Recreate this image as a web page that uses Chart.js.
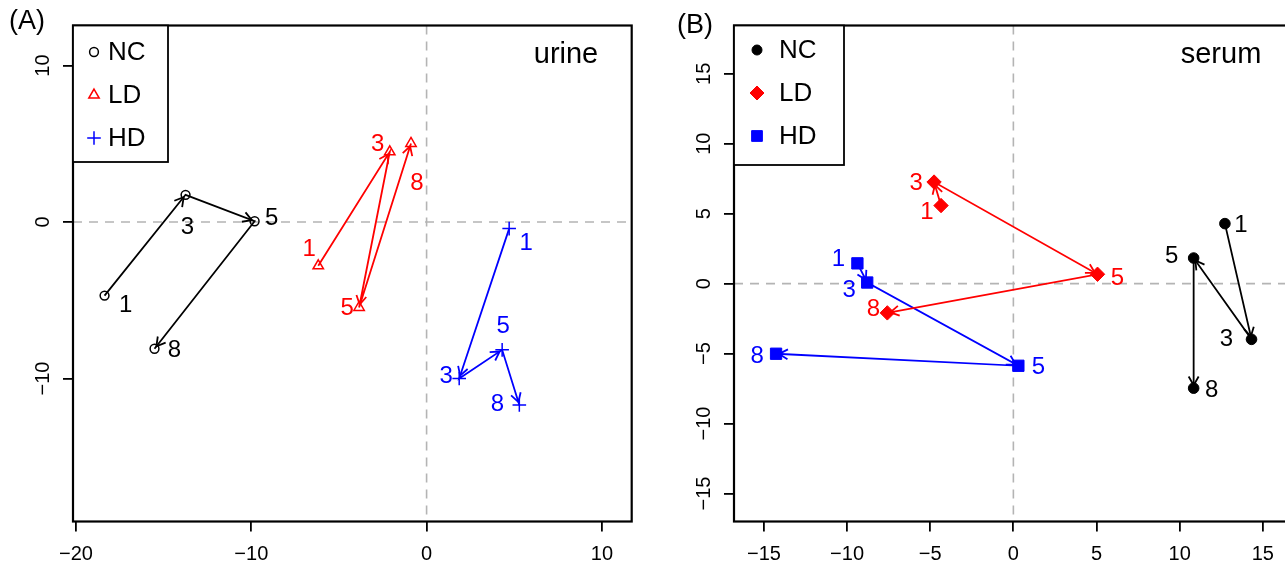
<!DOCTYPE html>
<html><head><meta charset="utf-8">
<script src="https://cdn.jsdelivr.net/npm/chart.js@4.4.0/dist/chart.umd.min.js"></script>
<style>
html,body{margin:0;padding:0;background:#fff;overflow:hidden;width:1285px;height:567px;}
#wa{position:absolute;left:0;top:0;width:640px;height:567px;}
#wb{position:absolute;left:640px;top:0;width:680px;height:567px;}
</style></head><body>
<div id="wa"><canvas id="ca" width="640" height="567"></canvas></div>
<div id="wb"><canvas id="cb" width="680" height="567"></canvas></div>
<script>
// ---------- data ----------
const timeLabels = ['1', '3', '5', '8'];
const groupNames = ['NC', 'LD', 'HD'];

// Panel A: urine
const urineNC_x = [-18.37, -13.75, -9.81, -15.52];
const urineNC_y = [-4.70, 1.74, 0.05, -8.10];
const urineLD_x = [-6.18, -2.10, -3.85, -0.89];
const urineLD_y = [-2.80, 4.49, -5.46, 5.02];
const urineHD_x = [4.71, 1.86, 4.31, 5.29];
const urineHD_y = [-0.42, -10.00, -8.17, -11.69];

// Panel B: serum
const serumNC_x = [12.72, 14.32, 10.84, 10.84];
const serumNC_y = [4.29, -3.98, 1.83, -7.47];
const serumLD_x = [-4.35, -4.77, 5.06, -7.58];
const serumLD_y = [5.58, 7.26, 0.67, -2.09];
const serumHD_x = [-9.38, -8.79, 0.30, -14.27];
const serumHD_y = [1.45, 0.08, -5.87, -5.01];

const urineXTicks = [-20, -10, 0, 10];
const urineYTicks = [-10, 0, 10];
const serumXTicks = [-15, -10, -5, 0, 5, 10, 15];
const serumYTicks = [-15, -10, -5, 0, 5, 10, 15];

// ---------- layout / style (not data) ----------
const COLORS = ['#000000', '#ff0000', '#0000ff'];
const FONT = '"Liberation Sans", Arial, Helvetica, sans-serif';

// pixel offsets of time labels relative to their points
const urineLabelOff = [
  [[21, 10], [2, 33], [17, -3], [20, 2]],
  [[-9, -16], [-12, -7], [-12, 1], [6, 40]],
  [[17, 15], [-13, -2], [1, -23], [-22, -1]]
];
const serumLabelOff = [
  [[16, 2], [-25, 0], [-22, -2], [18, 2]],
  [[-14, 7], [-18, 1], [20, 4], [-14, -4]],
  [[-19, -4], [-18, 8], [20, 2], [-19, 3]]
];

function pts(xs, ys) { return xs.map((x, i) => ({ x: x, y: ys[i] })); }
function minus(v) { return String(v).replace('-', '\u2212'); }

function drawSymbol(ctx, style, r, x, y, color, filled, lw) {
  ctx.save();
  ctx.strokeStyle = color; ctx.fillStyle = color; ctx.lineWidth = lw;
  ctx.beginPath();
  if (style === 'circle') { ctx.arc(x, y, r, 0, Math.PI * 2); }
  else if (style === 'triangle') {
    let a = 0;
    ctx.moveTo(x + Math.sin(a) * r, y - Math.cos(a) * r);
    a += 2 * Math.PI / 3; ctx.lineTo(x + Math.sin(a) * r, y - Math.cos(a) * r);
    a += 2 * Math.PI / 3; ctx.lineTo(x + Math.sin(a) * r, y - Math.cos(a) * r);
    ctx.closePath();
  } else if (style === 'cross') {
    ctx.moveTo(x, y - r); ctx.lineTo(x, y + r); ctx.moveTo(x - r, y); ctx.lineTo(x + r, y);
  } else if (style === 'rectRot') {
    ctx.moveTo(x - r, y); ctx.lineTo(x, y - r); ctx.lineTo(x + r, y); ctx.lineTo(x, y + r); ctx.closePath();
  } else if (style === 'rect') {
    const s = r * Math.SQRT1_2; ctx.rect(x - s, y - s, 2 * s, 2 * s);
  }
  if (filled && style !== 'cross') ctx.fill();
  ctx.stroke();
  ctx.restore();
}

function makeChart(id, cfg) {
  const datasets = cfg.series.map((s, gi) => ({
    label: groupNames[gi],
    data: pts(s[0], s[1]),
    showLine: true,
    borderColor: COLORS[gi],
    borderWidth: 1.8,
    pointStyle: cfg.sym[gi].style,
    pointRadius: cfg.sym[gi].r,
    pointBorderColor: COLORS[gi],
    pointBackgroundColor: cfg.sym[gi].filled ? COLORS[gi] : 'rgba(0,0,0,0)',
    pointBorderWidth: cfg.sym[gi].filled ? 1 : 1.5,
    tension: 0,
    fill: false,
    clip: false
  }));

  const deco = {
    id: 'deco' + id,
    beforeDatasetsDraw(chart) {
      const { ctx, chartArea: a, scales: { x, y } } = chart;
      ctx.save();
      ctx.beginPath(); ctx.rect(a.left, a.top, a.right - a.left, a.bottom - a.top); ctx.clip();
      ctx.strokeStyle = '#b4b4b4'; ctx.lineWidth = 1.6; ctx.setLineDash([9, 7]);
      const x0 = x.getPixelForValue(0), y0 = y.getPixelForValue(0);
      ctx.beginPath(); ctx.moveTo(x0, a.top); ctx.lineTo(x0, a.bottom); ctx.stroke();
      ctx.beginPath(); ctx.moveTo(a.left, y0); ctx.lineTo(a.right, y0); ctx.stroke();
      ctx.restore();
    },
    afterDatasetsDraw(chart) {
      const ctx = chart.ctx;
      chart.data.datasets.forEach((ds, gi) => {
        const meta = chart.getDatasetMeta(gi);
        const p = meta.data;
        ctx.save();
        ctx.strokeStyle = COLORS[gi]; ctx.lineWidth = 1.8; ctx.setLineDash([]);
        for (let j = 1; j < p.length; j++) {
          const ang = Math.atan2(p[j].y - p[j - 1].y, p[j].x - p[j - 1].x);
          const tx = p[j].x - Math.cos(ang) * 3, ty = p[j].y - Math.sin(ang) * 3;
          const L = 10, h = Math.PI / 6;
          ctx.beginPath();
          ctx.moveTo(tx - L * Math.cos(ang - h), ty - L * Math.sin(ang - h));
          ctx.lineTo(tx, ty);
          ctx.lineTo(tx - L * Math.cos(ang + h), ty - L * Math.sin(ang + h));
          ctx.stroke();
        }
        ctx.fillStyle = COLORS[gi];
        ctx.font = '24px ' + FONT; ctx.textAlign = 'center'; ctx.textBaseline = 'middle';
        p.forEach((pt, j) => {
          const o = cfg.labelOff[gi][j];
          ctx.fillText(timeLabels[j], pt.x + o[0], pt.y + o[1]);
        });
        ctx.restore();
      });
    },
    afterDraw(chart) {
      const { ctx, chartArea: a, scales: { x, y } } = chart;
      ctx.save();
      // box
      ctx.strokeStyle = '#000'; ctx.lineWidth = 2.2; ctx.setLineDash([]);
      ctx.strokeRect(a.left, a.top, a.right - a.left, a.bottom - a.top);
      // tick labels
      ctx.fillStyle = '#000'; ctx.font = '20px ' + FONT;
      ctx.textAlign = 'center'; ctx.textBaseline = 'middle';
      cfg.xTicks.forEach(v => ctx.fillText(minus(v), x.getPixelForValue(v), a.bottom + 33));
      cfg.yTicks.forEach(v => {
        ctx.save();
        ctx.translate(a.left - 30, y.getPixelForValue(v));
        ctx.rotate(-Math.PI / 2);
        ctx.fillText(minus(v), 0, 0);
        ctx.restore();
      });
      // legend
      const L = cfg.legend;
      ctx.fillStyle = '#fff';
      ctx.fillRect(a.left, a.top, L.right - a.left, L.bottom - a.top);
      ctx.strokeStyle = '#000'; ctx.lineWidth = 1.8;
      ctx.strokeRect(a.left, a.top, L.right - a.left, L.bottom - a.top);
      groupNames.forEach((g, gi) => {
        const yy = L.rows[gi];
        drawSymbol(ctx, cfg.sym[gi].style, cfg.legSym[gi], L.symX, yy, COLORS[gi], cfg.sym[gi].filled, cfg.sym[gi].filled ? 1 : 1.5);
        ctx.fillStyle = '#000'; ctx.font = '26px ' + FONT;
        ctx.textAlign = 'left'; ctx.textBaseline = 'middle';
        ctx.fillText(g, L.textX, yy + 1);
      });
      // title & panel tag
      ctx.fillStyle = '#000'; ctx.textAlign = 'center'; ctx.textBaseline = 'middle';
      ctx.font = '29px ' + FONT;
      ctx.fillText(cfg.title, cfg.titlePos[0], cfg.titlePos[1]);
      ctx.font = '27px ' + FONT;
      ctx.fillText(cfg.tag, cfg.tagPos[0], cfg.tagPos[1]);
      ctx.restore();
    }
  };

  const axis = (min, max, ticks, fitFn) => ({
    type: 'linear', min: min, max: max,
    afterBuildTicks: s => { s.ticks = ticks.map(v => ({ value: v })); },
    afterFit: fitFn,
    ticks: { display: false },
    grid: { display: true, drawOnChartArea: false, drawTicks: true, tickLength: 10, color: '#000', lineWidth: 1.8 },
    border: { display: false }
  });

  return new Chart(document.getElementById(id), {
    type: 'scatter',
    data: { datasets: datasets },
    options: {
      responsive: false, animation: false, devicePixelRatio: 1,
      layout: { padding: cfg.padding },
      plugins: { legend: { display: false }, tooltip: { enabled: false } },
      scales: {
        x: axis(cfg.xMin, cfg.xMax, cfg.xTicks, s => { s.height = cfg.xAxisH; }),
        y: axis(cfg.yMin, cfg.yMax, cfg.yTicks, s => { s.width = cfg.yAxisW; })
      }
    },
    plugins: [deco]
  });
}

makeChart('ca', {
  series: [[urineNC_x, urineNC_y], [urineLD_x, urineLD_y], [urineHD_x, urineHD_y]],
  sym: [{ style: 'circle', r: 4.4, filled: false }, { style: 'triangle', r: 6, filled: false }, { style: 'cross', r: 6.8, filled: false }],
  legSym: [4.4, 6, 6.8],
  labelOff: urineLabelOff,
  xMin: -20.17, xMax: 11.7, yMin: -19.14, yMax: 12.56,
  xTicks: urineXTicks, yTicks: urineYTicks,
  padding: { top: 25.5, right: 6, left: 0, bottom: 0 },
  xAxisH: 45.5, yAxisW: 73,
  legend: { right: 168, bottom: 162, symX: 94, textX: 108, rows: [52, 95, 138] },
  title: 'urine', titlePos: [566, 55],
  tag: '(A)', tagPos: [27, 22]
});

makeChart('cb', {
  series: [[serumNC_x, serumNC_y], [serumLD_x, serumLD_y], [serumHD_x, serumHD_y]],
  sym: [{ style: 'circle', r: 5.3, filled: true }, { style: 'rectRot', r: 7.2, filled: true }, { style: 'rect', r: 8, filled: true }],
  legSym: [5, 7, 7.6],
  labelOff: serumLabelOff,
  xMin: -16.8, xMax: 17.5, yMin: -17.0, yMax: 18.45,
  xTicks: serumXTicks, yTicks: serumYTicks,
  padding: { top: 25.5, right: 15.6, left: 0, bottom: 0 },
  xAxisH: 45.5, yAxisW: 94,
  legend: { right: 204, bottom: 165, symX: 117, textX: 139, rows: [50, 93, 136] },
  title: 'serum', titlePos: [581, 55],
  tag: '(B)', tagPos: [55, 26]
});
</script>
</body></html>
